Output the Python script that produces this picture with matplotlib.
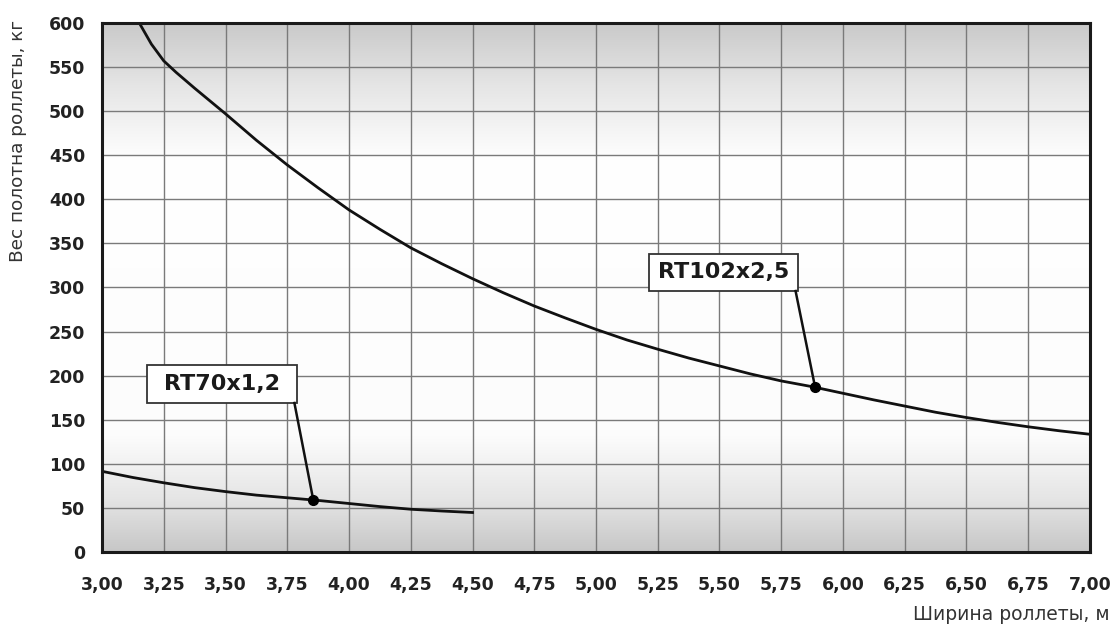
import numpy as np
import matplotlib
matplotlib.use('Agg')
import matplotlib.pyplot as plt
from matplotlib.colors import LinearSegmentedColormap
from matplotlib.patches import Rectangle

# RT102x2,5
x_rt102 = [3.151, 3.20, 3.25, 3.30, 3.375, 3.50, 3.625, 3.75, 3.875, 4.00, 4.125, 4.25, 4.375, 4.50,
           4.625, 4.75, 4.875, 5.00, 5.125, 5.25, 5.375, 5.50, 5.625, 5.75, 5.875, 6.00,
           6.125, 6.25, 6.375, 6.50, 6.625, 6.75, 6.875, 7.00]
y_rt102 = [600, 576, 557, 544, 526, 497, 467, 439, 413, 388, 366, 345, 327, 310,
           294, 279, 265.5, 252.5, 240.5, 230, 220, 211, 202, 194, 187.5, 180,
           172.5, 165.5, 158.5, 152.5, 147, 142, 137.5, 133.5]

# RT70x1,2
x_rt70 = [3.00, 3.125, 3.25, 3.375, 3.50, 3.625, 3.75, 3.875, 4.00, 4.125, 4.25, 4.375, 4.50]
y_rt70 = [91.5, 84.5, 78.5, 73, 68.5, 64.5, 61.5, 58.5, 55, 51.5, 48.5, 46.5, 44.8]

# точки выносок
pt_rt102 = (5.887, 187)
pt_rt70 = (3.855, 59.5)

xticks = np.arange(3.0, 7.01, 0.25)
yticks = np.arange(0, 601, 50)

fig = plt.figure(figsize=(11.16, 6.31), dpi=100)
ax = fig.add_axes([0.0914, 0.1252, 0.8853, 0.8384])

# фон: серый -> белый -> серый
cm = LinearSegmentedColormap.from_list('bg', [(0.0, (0.78, 0.78, 0.78)),
                                              (0.10, (0.90, 0.90, 0.90)),
                                              (0.22, (0.99, 0.99, 0.99)),
                                              (0.74, (1, 1, 1)),
                                              (0.88, (0.90, 0.90, 0.90)),
                                              (1.0, (0.79, 0.79, 0.79))])
grad = np.linspace(0, 1, 256).reshape(-1, 1)
ax.imshow(grad, cmap=cm, aspect='auto', extent=[3.0, 7.0, 0, 600], origin='lower', zorder=0)

ax.set_xlim(3.0, 7.0)
ax.set_ylim(0, 600)
ax.set_xticks(xticks)
ax.set_yticks(yticks)
ax.set_xticklabels([('%.2f' % v).replace('.', ',') for v in xticks])
ax.set_yticklabels([str(v) for v in yticks])
ax.tick_params(length=0, labelsize=12.5)
ax.tick_params(axis='x', pad=17)
ax.tick_params(axis='y', pad=12)
for lbl in ax.get_xticklabels() + ax.get_yticklabels():
    lbl.set_fontweight('bold')
    lbl.set_color('#222222')
ax.grid(True, color='#7a7a7a', lw=1.0, zorder=1)
ax.set_axisbelow(False)
for s in ax.spines.values():
    s.set_linewidth(2.2)
    s.set_color('#1a1a1a')
    s.set_zorder(5)

ax.plot(x_rt102, y_rt102, color='#111111', lw=2.0, zorder=3)
ax.plot(x_rt70, y_rt70, color='#111111', lw=2.0, zorder=3)

def label(x0, x1, y0, y1, text, pt):
    ax.add_patch(Rectangle((x0, y0), x1 - x0, y1 - y0, facecolor='white',
                           edgecolor='#333333', lw=1.3, zorder=4))
    ax.text((x0 + x1) / 2, (y0 + y1) / 2, text, ha='center', va='center',
            fontsize=16, fontweight='bold', color='#1a1a1a', zorder=5)
    ax.plot([x1 - 0.01, pt[0]], [y0, pt[1]], color='#111111', lw=1.8, zorder=4)
    ax.plot(pt[0], pt[1], 'o', color='black', ms=7, zorder=5)

label(3.182, 3.789, 169, 212, 'RT70x1,2', pt_rt70)
label(5.215, 5.818, 296, 338, 'RT102x2,5', pt_rt102)

fig.text(0.016, 0.968, 'Вес полотна роллеты, кг', rotation=90, ha='center', va='top',
         fontsize=13.3, color='#333333')
fig.text(0.818, 0.026, 'Ширина роллеты, м', ha='left', va='center',
         fontsize=13.5, color='#333333')

fig.savefig('out.png', dpi=100)
